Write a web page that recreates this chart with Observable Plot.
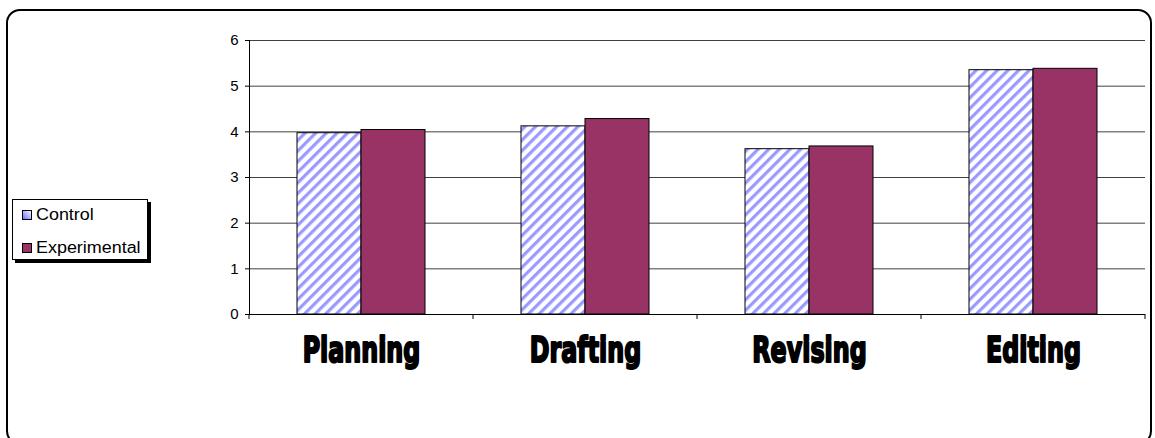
<!DOCTYPE html>
<html>
<head>
<meta charset="utf-8">
<script src="https://cdn.jsdelivr.net/npm/d3@7"></script>
<script src="https://cdn.jsdelivr.net/npm/@observablehq/plot@0.6"></script>
<style>
  html, body { margin: 0; padding: 0; background: #fff; overflow: hidden; }
  #wrap { position: relative; width: 1155px; height: 438px; overflow: hidden; font-family: "Liberation Sans", Arial, sans-serif; }
  #border { position: absolute; left: 6px; top: 9px; width: 1146px; height: 436px; border: 2.5px solid #000; border-radius: 14px; box-sizing: border-box; }
  #chart { position: absolute; left: 0; top: 0; }
  #legend { position: absolute; left: 12px; top: 199px; width: 136px; height: 61px; border: 1.5px solid #000; box-shadow: 3px 3px 0 #000; background: #fff; box-sizing: border-box; font-size: 16px; color: #000; }
  .item { position: absolute; left: 9px; display: flex; align-items: center; height: 16px; }
  .item span { display: inline-block; transform: scaleX(1.12); transform-origin: left center; }
</style>
</head>
<body>
<div id="wrap">
  <div id="border"></div>
  <div id="chart"></div>
  <div id="legend"></div>
</div>
<script>
const categories = ["Planning", "Drafting", "Revising", "Editing"];
const series = ["Control", "Experimental"];
const control = [3.97, 4.12, 3.62, 5.35];
const experimental = [4.04, 4.28, 3.68, 5.38];
const yTicks = [0, 1, 2, 3, 4, 5, 6];
const colors = ["url(#hatch)", "#993366"];

const rows = [];
categories.forEach((c, i) => {
  rows.push({category: c, series: series[0], value: control[i]});
  rows.push({category: c, series: series[1], value: experimental[i]});
});

const plot = Plot.plot({
  width: 1155,
  height: 438,
  marginLeft: 248,
  marginRight: 10,
  marginTop: 40,
  marginBottom: 124,
  style: {fontFamily: "'Liberation Sans', Arial, sans-serif", fontSize: "15px", background: "transparent", color: "#000"},
  fx: {domain: categories, padding: 0, axis: null},
  x: {domain: series, paddingInner: 0, paddingOuter: 0.74, axis: null},
  y: {domain: [0, 6], ticks: yTicks, tickFormat: d3.format("d"), tickSize: 4, tickPadding: 7, label: null, line: true},
  color: {type: "ordinal", domain: series, range: colors},
  marks: [
    Plot.ruleY(yTicks.filter(d => d > 0), {stroke: "#000", strokeOpacity: 0.75, strokeWidth: 1}),
    Plot.barY(rows, {fx: "category", x: "series", y: "value", fill: "series", stroke: "#000", strokeWidth: 1}),
    Plot.ruleY([0], {stroke: "#000", strokeWidth: 1}),
    Plot.text(categories, {
      fx: d => d, text: d => d, frameAnchor: "bottom", lineAnchor: "top", dy: 23,
      fontFamily: "'DejaVu Sans', sans-serif", className: "catlabel",
      fontWeight: "bold", fontSize: 35, fill: "#000", stroke: "#000", strokeWidth: 2.2
    })
  ]
});

const svg = d3.select(plot);
const defs = svg.insert("defs", ":first-child");
const pat = defs.append("pattern")
  .attr("id", "hatch").attr("patternUnits", "userSpaceOnUse")
  .attr("width", 7.5).attr("height", 7.5)
  .attr("patternTransform", "rotate(45)");
pat.append("rect").attr("width", 7.5).attr("height", 7.5).attr("fill", "#fff");
pat.append("rect").attr("width", 3.2).attr("height", 7.5).attr("fill", "#9999ff");

// category boundary tick marks on the x axis
const fx = plot.scale("fx");
const y = plot.scale("y");
const y0 = y.apply(0);
const bounds = categories.map(c => fx.apply(c));
bounds.push(fx.apply(categories[categories.length - 1]) + fx.bandwidth);
svg.append("g").selectAll("line").data(bounds).join("line")
  .attr("x1", d => d).attr("x2", d => d)
  .attr("y1", y0).attr("y2", y0 + 5)
  .attr("stroke", "#000");

document.getElementById("chart").appendChild(plot);

// condense the heavy category labels (Impact-like look)
svg.selectAll(".catlabel text").each(function() {
  const len = this.getComputedTextLength();
  this.setAttribute("textLength", len * 0.68);
  this.setAttribute("lengthAdjust", "spacingAndGlyphs");
});

// legend
const legend = d3.select("#legend");
series.forEach((s, i) => {
  const item = legend.append("div").attr("class", "item").style("top", (i === 0 ? 7 : 40) + "px");
  const sw = item.append("svg").attr("width", 10).attr("height", 10).style("margin-right", "4px");
  const g = sw.append("defs").append("linearGradient").attr("id", "lg" + i)
    .attr("x1", 0).attr("y1", 1).attr("x2", 1).attr("y2", 0);
  if (i === 0) {
    g.append("stop").attr("offset", "0%").attr("stop-color", "#6666ff");
    g.append("stop").attr("offset", "100%").attr("stop-color", "#ffffff");
  } else {
    g.append("stop").attr("offset", "0%").attr("stop-color", colors[1]);
    g.append("stop").attr("offset", "100%").attr("stop-color", colors[1]);
  }
  sw.append("rect").attr("x", 0.5).attr("y", 0.5).attr("width", 9).attr("height", 9)
    .attr("fill", "url(#lg" + i + ")").attr("stroke", "#000");
  item.append("span").text(s);
});
</script>
</body>
</html>
